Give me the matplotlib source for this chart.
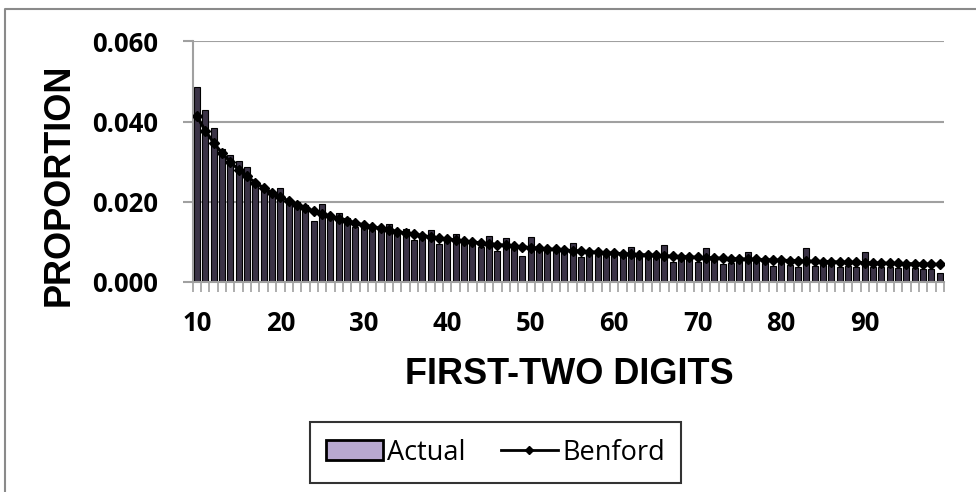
import matplotlib
matplotlib.use("Agg")
import matplotlib.pyplot as plt
from matplotlib.patches import Patch
from matplotlib.lines import Line2D

# first-two digits 10..99
digits = list(range(10, 100))

actual = [0.0486, 0.0430, 0.0384, 0.0332, 0.0316, 0.0303, 0.0286, 0.0252, 0.0238, 0.0224,
          0.0234, 0.0205, 0.0200, 0.0191, 0.0151, 0.0195, 0.0158, 0.0172, 0.0160, 0.0136,
          0.0148, 0.0130, 0.0134, 0.0145, 0.0130, 0.0132, 0.0105, 0.0115, 0.0130, 0.0095,
          0.0107, 0.0120, 0.0101, 0.0097, 0.0088, 0.0115, 0.0078, 0.0109, 0.0087, 0.0066,
          0.0112, 0.0080, 0.0080, 0.0078, 0.0082, 0.0097, 0.0062, 0.0078, 0.0068, 0.0064,
          0.0068, 0.0064, 0.0088, 0.0062, 0.0067, 0.0060, 0.0093, 0.0051, 0.0065, 0.0059,
          0.0051, 0.0084, 0.0059, 0.0045, 0.0047, 0.0055, 0.0074, 0.0051, 0.0047, 0.0040,
          0.0047, 0.0043, 0.0038, 0.0086, 0.0040, 0.0043, 0.0043, 0.0037, 0.0040, 0.0037,
          0.0074, 0.0037, 0.0037, 0.0037, 0.0034, 0.0037, 0.0034, 0.0032, 0.0032, 0.0023]

benford = [0.04139, 0.03779, 0.03476, 0.03218, 0.02996, 0.02803, 0.02633, 0.02482, 0.02348, 0.02228,
           0.02119, 0.02020, 0.01931, 0.01848, 0.01773, 0.01703, 0.01639, 0.01579, 0.01524, 0.01472,
           0.01424, 0.01379, 0.01336, 0.01296, 0.01259, 0.01223, 0.01190, 0.01158, 0.01128, 0.01100,
           0.01072, 0.01047, 0.01022, 0.00998, 0.00976, 0.00955, 0.00934, 0.00914, 0.00895, 0.00877,
           0.00860, 0.00843, 0.00827, 0.00812, 0.00797, 0.00783, 0.00769, 0.00755, 0.00742, 0.00730,
           0.00718, 0.00706, 0.00695, 0.00684, 0.00674, 0.00664, 0.00654, 0.00644, 0.00635, 0.00626,
           0.00617, 0.00609, 0.00600, 0.00592, 0.00584, 0.00577, 0.00569, 0.00562, 0.00555, 0.00548,
           0.00542, 0.00535, 0.00529, 0.00523, 0.00517, 0.00511, 0.00505, 0.00499, 0.00494, 0.00488,
           0.00483, 0.00478, 0.00473, 0.00468, 0.00463, 0.00458, 0.00453, 0.00449, 0.00444, 0.00440]

xticks = [10, 20, 30, 40, 50, 60, 70, 80, 90]
yticks = [0.000, 0.020, 0.040, 0.060]

grey = "#a0a0a0"

fig = plt.figure(figsize=(9.76, 4.92), dpi=100)
ax = fig.add_axes([192.7/976, 1-282/492, (944-192.7)/976, (282-41.5)/492])

ax.bar(digits, actual, width=0.72, color="#3b3346", edgecolor="black", linewidth=0.8, zorder=2)
ax.plot(digits, benford, color="black", linewidth=2.2, marker="D", markersize=5, zorder=3)

ax.set_xlim(9.5, 99.5)
ax.set_ylim(0, 0.060)
ax.set_yticks(yticks)
ax.set_yticklabels(["%.3f" % v for v in yticks])
ax.set_xticks(xticks)
ax.set_xticklabels([str(v) for v in xticks])
ax.set_xticks([d - 0.5 for d in digits] + [99.5], minor=True)

ax.grid(axis="y", color=grey, linewidth=1.5, zorder=0)
ax.set_axisbelow(True)
for s in ["top", "right"]:
    ax.spines[s].set_visible(False)
ax.spines["left"].set_color(grey)
ax.spines["bottom"].set_color(grey)
ax.spines["left"].set_linewidth(1.5)
ax.spines["bottom"].set_linewidth(1.5)

tickfont = {"family": "Open Sans", "weight": "bold", "size": 18.5}
ax.tick_params(axis="y", length=7, width=1.5, color=grey, pad=18)
ax.tick_params(axis="x", which="major", length=0, pad=20)
ax.tick_params(axis="x", which="minor", length=7, width=1.2, color=grey)
for lab in ax.get_yticklabels() + ax.get_xticklabels():
    lab.set_fontproperties(tickfont)

labfont = {"family": "Liberation Sans", "weight": "bold", "size": 26}
fig.text(569.5/976, 1-384/492, "FIRST-TWO DIGITS", ha="center", va="baseline", **labfont)
fig.text(59/976, 1-185/492, "PROPORTION", ha="center", va="center", rotation=90, **labfont)

handles = [Patch(facecolor="#b8a9d0", edgecolor="black", linewidth=2),
           Line2D([], [], color="black", linewidth=2, marker="D", markersize=4)]
leg = fig.legend(handles, ["Actual", "Benford"], loc="center", bbox_to_anchor=(495.5/976, 1-452.5/492),
                 ncol=2, frameon=True, fancybox=False, edgecolor="black",
                 prop={"family": "Open Sans", "size": 19.5}, handlelength=2.1, handleheight=0.8,
                 handletextpad=0.15, columnspacing=1.3, borderpad=0.6)
leg.get_frame().set_linewidth(1.5)

# outer chart border (top and left visible)
fig.add_artist(Line2D([5/976, 5/976, 1], [0, 1-8.5/492, 1-8.5/492], transform=fig.transFigure,
                      color="#8a8a8a", linewidth=1.5))

fig.savefig("out.png", dpi=100)
